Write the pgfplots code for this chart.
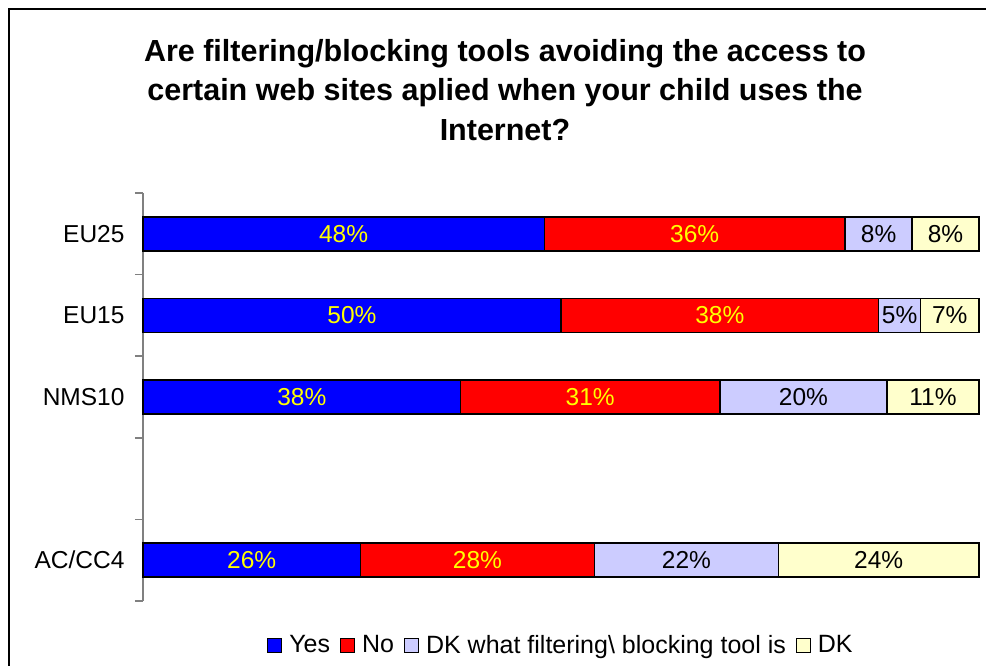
\documentclass[border=0pt]{standalone}
\usepackage{pgfplots}
\pgfplotsset{compat=1.18}
\usepackage{pgfplotstable}
\usepackage{fontspec}
\setmainfont{Liberation Sans}
\definecolor{cyes}{RGB}{0,0,255}
\definecolor{cno}{RGB}{255,0,0}
\definecolor{cdkw}{RGB}{204,204,255}
\definecolor{cdk}{RGB}{255,255,204}
\definecolor{axgray}{RGB}{128,128,128}
\definecolor{lblyellow}{RGB}{255,255,0}
\pgfplotstableread{
c v
0 48
1 50
2 38
4 26
}\tyes
\pgfplotstableread{
c v
0 36
1 38
2 31
4 28
}\tno
\pgfplotstableread{
c v
0 8
1 5
2 20
4 22
}\tdkw
\pgfplotstableread{
c v
0 8
1 7
2 11
4 24
}\tdk
\begin{document}
\begin{tikzpicture}
\path[use as bounding box] (0pt,0pt) rectangle (986pt,665pt);
\draw[line width=2pt] (9pt,-20pt) -- (9pt,656pt) -- (1010pt,656pt);
\node[anchor=base,font=\fontsize{30.5}{36}\selectfont\bfseries] at (505pt,603pt) {Are filtering/blocking tools avoiding the access to};
\node[anchor=base,font=\fontsize{30.5}{36}\selectfont\bfseries] at (505pt,564pt) {certain web sites aplied when your child uses the};
\node[anchor=base,font=\fontsize{30.5}{36}\selectfont\bfseries] at (505pt,524pt) {Internet?};
\begin{axis}[
  at={(143pt,64pt)}, anchor=south west,
  scale only axis, width=836pt, height=408pt,
  xbar stacked, bar width=34pt,
  xmin=0, xmax=100, ymin=-0.5, ymax=4.5, y dir=reverse,
  axis x line=none, axis y line=left,
  axis line style={-, draw=axgray, line width=1.5pt},
  ytick={0,1,2,4}, yticklabels={EU25,EU15,NMS10,AC/CC4},
  major tick length=0pt,
  minor ytick={-0.5,0.5,1.5,2.5,3.5,4.5},
  minor tick length=8pt, tick align=outside,
  every minor tick/.style={draw=axgray, line width=1.5pt},
  yticklabel style={font=\fontsize{24.5}{29}\selectfont, xshift=-15pt},
  clip=false,
  /pgf/number format/assume math mode=true,
  visualization depends on={\thisrow{v} \as \rawx},
  nodes near coords={\pgfmathprintnumber[assume math mode=true]{\rawx}\%},
  every node near coord/.append style={anchor=center, font=\fontsize{24.5}{29}\selectfont},
  legend style={at={(0.5,-0.108)}, anchor=center, draw=none, legend columns=-1, font=\fontsize{25}{29}\selectfont,
    /tikz/every odd column/.append style={column sep=5pt},
    /tikz/every even column/.append style={column sep=8pt}},
  legend image code/.code={\draw[#1,draw=black,line width=1pt] (0pt,-7pt) rectangle (14pt,7pt);},
]
\addplot[fill=cyes, draw=black, line width=1.5pt, every node near coord/.append style={text=lblyellow}] table[x=v,y=c] {\tyes};
\addplot[fill=cno, draw=black, line width=1.5pt, every node near coord/.append style={text=lblyellow}] table[x=v,y=c] {\tno};
\addplot[fill=cdkw, draw=black, line width=1.5pt, every node near coord/.append style={text=black}] table[x=v,y=c] {\tdkw};
\addplot[fill=cdk, draw=black, line width=1.5pt, every node near coord/.append style={text=black}] table[x=v,y=c] {\tdk};
\legend{Yes, No, DK what filtering\textbackslash{} blocking tool is, DK}
\end{axis}
\end{tikzpicture}
\end{document}
